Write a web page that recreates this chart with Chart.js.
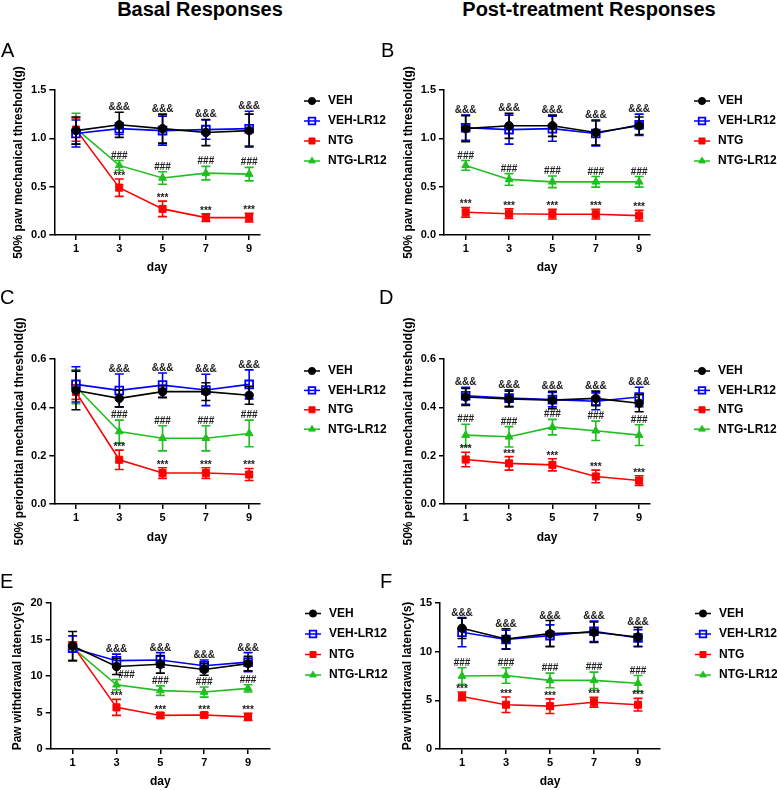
<!DOCTYPE html>
<html>
<head>
<meta charset="utf-8">
<script src="https://cdn.jsdelivr.net/npm/chart.js@4.4.1/dist/chart.umd.min.js"></script>
<style>
  body { margin: 0; background: #fff; width: 777px; height: 790px; position: relative; overflow: hidden;
         font-family: "Liberation Sans", Arial, sans-serif; }
  canvas { position: absolute; }
  .head { position: absolute; top: -2px; font-weight: bold; font-size: 20px; white-space: nowrap; transform: translateX(-50%); }
  .letter { position: absolute; font-size: 20px; z-index: 2; }
</style>
</head>
<body>
<div class="head" style="left:200px">Basal Responses</div>
<div class="head" style="left:589px">Post-treatment Responses</div>
<div class="letter" style="left:1px;top:39px">A</div>
<div class="letter" style="left:381px;top:39px">B</div>
<div class="letter" style="left:0px;top:286px">C</div>
<div class="letter" style="left:379px;top:286px">D</div>
<div class="letter" style="left:0px;top:570px">E</div>
<div class="letter" style="left:380px;top:570px">F</div>

<canvas id="chartA" width="390" height="235" style="left:0px;top:55px"></canvas>
<canvas id="chartB" width="387" height="235" style="left:390px;top:55px"></canvas>
<canvas id="chartC" width="390" height="255" style="left:0px;top:300px"></canvas>
<canvas id="chartD" width="387" height="255" style="left:390px;top:300px"></canvas>
<canvas id="chartE" width="390" height="200" style="left:0px;top:590px"></canvas>
<canvas id="chartF" width="387" height="200" style="left:390px;top:590px"></canvas>

<script>
// days on the x axis
const days = [1, 3, 5, 7, 9];
const groupNames = ['VEH', 'VEH-LR12', 'NTG', 'NTG-LR12'];

// A - basal paw threshold (g)
const aVEH = [1.08, 1.14, 1.10, 1.06, 1.08];
const aVEHsem = [0.14, 0.13, 0.15, 0.135, 0.17];
const aVEHLR = [1.05, 1.10, 1.08, 1.09, 1.10];
const aVEHLRsem = [0.14, 0.06, 0.15, 0.10, 0.18];
const aNTG = [1.09, 0.49, 0.27, 0.18, 0.18];
const aNTGsem = [0.12, 0.09, 0.08, 0.04, 0.045];
const aNTGLR = [1.10, 0.72, 0.59, 0.64, 0.63];
const aNTGLRsem = [0.16, 0.05, 0.065, 0.07, 0.07];

// B - post-treatment paw threshold (g)
const bVEH = [1.10, 1.13, 1.13, 1.06, 1.13];
const bVEHsem = [0.135, 0.13, 0.11, 0.13, 0.09];
const bVEHLR = [1.11, 1.09, 1.10, 1.05, 1.14];
const bVEHLRsem = [0.13, 0.15, 0.13, 0.13, 0.11];
const bNTG = [0.235, 0.22, 0.215, 0.215, 0.20];
const bNTGsem = [0.05, 0.05, 0.05, 0.05, 0.055];
const bNTGLR = [0.72, 0.575, 0.55, 0.55, 0.55];
const bNTGLRsem = [0.05, 0.06, 0.06, 0.055, 0.055];

// C - basal periorbital threshold (g)
const cVEH = [0.47, 0.437, 0.465, 0.465, 0.45];
const cVEHsem = [0.08, 0.035, 0.025, 0.037, 0.037];
const cVEHLR = [0.495, 0.47, 0.492, 0.472, 0.495];
const cVEHLRsem = [0.073, 0.068, 0.05, 0.065, 0.06];
const cNTG = [0.463, 0.183, 0.128, 0.128, 0.122];
const cNTGsem = [0.03, 0.04, 0.022, 0.022, 0.025];
const cNTGLR = [0.485, 0.30, 0.272, 0.272, 0.292];
const cNTGLRsem = [0.07, 0.047, 0.052, 0.052, 0.055];

// D - post-treatment periorbital threshold (g)
const dVEH = [0.443, 0.435, 0.430, 0.437, 0.417];
const dVEHsem = [0.035, 0.032, 0.036, 0.03, 0.035];
const dVEHLR = [0.448, 0.438, 0.432, 0.425, 0.443];
const dVEHLRsem = [0.035, 0.035, 0.03, 0.035, 0.04];
const dNTG = [0.184, 0.168, 0.162, 0.114, 0.097];
const dNTGsem = [0.03, 0.028, 0.025, 0.026, 0.02];
const dNTGLR = [0.285, 0.278, 0.318, 0.303, 0.285];
const dNTGLRsem = [0.045, 0.042, 0.032, 0.04, 0.043];

// E - basal withdrawal latency (s)
const eVEH = [14.1, 11.3, 11.6, 10.9, 11.7];
const eVEHsem = [2.0, 1.1, 1.2, 0.8, 1.0];
const eVEHLR = [13.8, 12.1, 12.2, 11.4, 11.9];
const eVEHLRsem = [1.7, 0.9, 1.0, 0.8, 1.3];
const eNTG = [14.2, 5.7, 4.6, 4.65, 4.4];
const eNTGsem = [0.5, 1.1, 0.35, 0.3, 0.5];
const eNTGLR = [13.9, 8.8, 8.0, 7.8, 8.3];
const eNTGLRsem = [0.6, 0.7, 0.65, 0.7, 0.5];

// F - post-treatment withdrawal latency (s)
const fVEH = [12.4, 11.3, 11.85, 12.0, 11.5];
const fVEHsem = [1.05, 1.05, 1.35, 1.05, 1.0];
const fVEHLR = [12.0, 11.25, 11.65, 12.1, 11.4];
const fVEHLRsem = [1.5, 0.95, 1.1, 1.05, 0.85];
const fNTG = [5.4, 4.55, 4.4, 4.8, 4.55];
const fNTGsem = [0.45, 0.8, 0.75, 0.5, 0.65];
const fNTGLR = [7.5, 7.55, 7.05, 7.05, 6.75];
const fNTGLRsem = [0.85, 0.8, 0.75, 0.85, 0.8];

// days that carry significance marks
const basalMarkDays = [3, 5, 7, 9];
const postMarkDays = [1, 3, 5, 7, 9];

const FONT = '"Liberation Sans", Arial, sans-serif';
Chart.defaults.font.family = FONT;

const styles = [
  { color: '#000000', pointStyle: 'circle', radius: 4.2, fill: '#000000', bw: 1 },
  { color: '#0000ff', pointStyle: 'rect', radius: 5.5, fill: 'rgba(0,0,0,0)', bw: 1.8 },
  { color: '#ff0000', pointStyle: 'rect', radius: 5, fill: '#ff0000', bw: 1 },
  { color: '#1fbf1f', pointStyle: 'triangle', radius: 4.5, fill: '#1fbf1f', bw: 1 }
];

// error bars (mean +/- sem) drawn under each dataset's markers
const errorBars = {
  id: 'errorBars',
  beforeDatasetDraw(chart, args) {
    const ds = chart.data.datasets[args.index];
    const y = chart.scales.y;
    const ctx = chart.ctx;
    ctx.save();
    ctx.strokeStyle = ds.borderColor;
    ctx.lineWidth = 1.6;
    args.meta.data.forEach((pt, i) => {
      const top = y.getPixelForValue(ds.data[i].y + ds.sem[i]);
      const bot = y.getPixelForValue(ds.data[i].y - ds.sem[i]);
      ctx.beginPath();
      ctx.moveTo(pt.x, top); ctx.lineTo(pt.x, bot);
      ctx.moveTo(pt.x - 4.5, top); ctx.lineTo(pt.x + 4.5, top);
      ctx.moveTo(pt.x - 4.5, bot); ctx.lineTo(pt.x + 4.5, bot);
      ctx.stroke();
    });
    ctx.restore();
  }
};

// &&& / ### / *** above the error bars
const sigMarks = {
  id: 'sigMarks',
  afterDatasetsDraw(chart, args, opts) {
    const { ctx, scales: { x, y } } = chart;
    ctx.save();
    ctx.font = 'bold 10px ' + FONT;
    ctx.fillStyle = '#222';
    ctx.textAlign = 'center';
    ctx.textBaseline = 'alphabetic';
    opts.marks.forEach(m => {
      m.days.forEach(d => {
        const i = days.indexOf(d);
        let top = Infinity;
        m.sets.forEach(s => {
          const ds = chart.data.datasets[s];
          top = Math.min(top, y.getPixelForValue(ds.data[i].y + ds.sem[i]));
        });
        const dx = (opts.shift && opts.shift[m.text] && opts.shift[m.text][d]) || 0;
        ctx.fillText(m.text, x.getPixelForValue(d) + dx, top + m.nudge);
      });
    });
    ctx.restore();
  }
};

function drawMarker(ctx, st, cx, cy, r) {
  ctx.fillStyle = st.fill;
  ctx.strokeStyle = st.color;
  ctx.lineWidth = st.bw;
  ctx.beginPath();
  if (st.pointStyle === 'circle') {
    ctx.arc(cx, cy, r, 0, Math.PI * 2);
  } else if (st.pointStyle === 'rect') {
    const s = r * Math.SQRT1_2;
    ctx.rect(cx - s, cy - s, 2 * s, 2 * s);
  } else {
    ctx.moveTo(cx, cy - r);
    ctx.lineTo(cx + r * Math.sin(2 * Math.PI / 3), cy - r * Math.cos(2 * Math.PI / 3));
    ctx.lineTo(cx + r * Math.sin(4 * Math.PI / 3), cy - r * Math.cos(4 * Math.PI / 3));
    ctx.closePath();
  }
  ctx.fill();
  ctx.stroke();
}

// legend to the right: line + marker + label
const sideLegend = {
  id: 'sideLegend',
  afterDraw(chart, args, opts) {
    const ctx = chart.ctx;
    ctx.save();
    chart.data.datasets.forEach((ds, i) => {
      const st = styles[i];
      const yy = opts.y + i * opts.step;
      ctx.strokeStyle = st.color;
      ctx.lineWidth = 1.5;
      ctx.beginPath(); ctx.moveTo(opts.x, yy); ctx.lineTo(opts.x + 16, yy); ctx.stroke();
      drawMarker(ctx, st, opts.x + 8, yy, st.radius * 0.85);
      ctx.fillStyle = '#000';
      ctx.font = 'bold 12px ' + FONT;
      ctx.textAlign = 'left';
      ctx.textBaseline = 'middle';
      ctx.fillText(ds.label, opts.x + 24, yy);
    });
    ctx.restore();
  }
};

const panels = [
  { id: 'chartA', box: [0, 55, 390, 235], area: [54.3, 260, 90, 235], yTitleX: 19, xTitleY: 268, xMax: 9.5,
    yTitle: '50% paw mechanical threshold(g)', yMax: 1.5, yStep: 0.5, yDec: 1, markDays: basalMarkDays,
    series: [[aVEH, aVEHsem], [aVEHLR, aVEHLRsem], [aNTG, aNTGsem], [aNTGLR, aNTGLRsem]],
    legend: { x: 304, y: 101, step: 20 } },
  { id: 'chartB', box: [390, 55, 387, 235], area: [444, 650, 90, 235], yTitleX: 409, xTitleY: 268, xMax: 9.5,
    yTitle: '50% paw mechanical threshold(g)', yMax: 1.5, yStep: 0.5, yDec: 1, markDays: postMarkDays,
    series: [[bVEH, bVEHsem], [bVEHLR, bVEHLRsem], [bNTG, bNTGsem], [bNTGLR, bNTGLRsem]],
    legend: { x: 694, y: 101, step: 20 } },
  { id: 'chartC', box: [0, 300, 390, 255], area: [54.3, 260, 359, 504], yTitleX: 19.5, xTitleY: 538, xMax: 9.5,
    yTitle: '50% periorbital mechanical threshold(g)', yMax: 0.6, yStep: 0.2, yDec: 1, markDays: basalMarkDays,
    series: [[cVEH, cVEHsem], [cVEHLR, cVEHLRsem], [cNTG, cNTGsem], [cNTGLR, cNTGLRsem]],
    legend: { x: 304, y: 371, step: 19.4 } },
  { id: 'chartD', box: [390, 300, 387, 255], area: [444, 650, 359, 504], yTitleX: 409, xTitleY: 538, xMax: 9.5,
    yTitle: '50% periorbital mechanical threshold(g)', yMax: 0.6, yStep: 0.2, yDec: 1, markDays: postMarkDays,
    series: [[dVEH, dVEHsem], [dVEHLR, dVEHLRsem], [dNTG, dNTGsem], [dNTGLR, dNTGLRsem]],
    legend: { x: 694, y: 371, step: 19.4 } },
  { id: 'chartE', box: [0, 590, 390, 200], area: [50.7, 270, 603, 749], yTitleX: 18, xTitleY: 781.5, xMax: 10,
    yTitle: 'Paw withdrawal latency(s)', yMax: 20, yStep: 5, yDec: 0, markDays: basalMarkDays,
    series: [[eVEH, eVEHsem], [eVEHLR, eVEHLRsem], [eNTG, eNTGsem], [eNTGLR, eNTGLRsem]],
    legend: { x: 305, y: 613.5, step: 20.5 }, shift: { '###': { 3: 10 } } },
  { id: 'chartF', box: [390, 590, 387, 200], area: [440, 660, 603, 749], yTitleX: 408, xTitleY: 781.5, xMax: 10,
    yTitle: 'Paw withdrawal latency(s)', yMax: 15, yStep: 5, yDec: 0, markDays: postMarkDays,
    series: [[fVEH, fVEHsem], [fVEHLR, fVEHLRsem], [fNTG, fNTGsem], [fNTGLR, fNTGLRsem]],
    legend: { x: 695, y: 613.5, step: 20.5 } }
];

panels.forEach(p => {
  const [bx, by, bw, bh] = p.box;
  const [l, r, t, b] = p.area;
  const yScaleLeft = p.yTitleX - 7.2;     // half of 12px*1.2 line height
  const xScaleBottom = p.xTitleY + 7.2;   // half of 12px*1.2 line height
  const wy = l - yScaleLeft;
  const hx = xScaleBottom - b;
  const legend = { x: p.legend.x - bx, y: p.legend.y - by, step: p.legend.step };

  const datasets = p.series.map(([vals, sem], i) => ({
    label: groupNames[i],
    data: days.map((d, k) => ({ x: d, y: vals[k] })),
    sem: sem,
    borderColor: styles[i].color,
    borderWidth: 1.6,
    tension: 0,
    pointStyle: styles[i].pointStyle,
    pointRadius: styles[i].radius,
    pointBackgroundColor: styles[i].fill,
    pointBorderColor: styles[i].color,
    pointBorderWidth: styles[i].bw,
    fill: false
  }));

  const tickFont = { weight: 'bold', size: 11, family: FONT };
  const titleFont = { weight: 'bold', size: 12, family: FONT };

  new Chart(document.getElementById(p.id), {
    type: 'line',
    data: { datasets },
    plugins: [errorBars, sigMarks, sideLegend],
    options: {
      responsive: false,
      animation: false,
      devicePixelRatio: 1,
      events: [],
      layout: {
        padding: { left: yScaleLeft - bx, right: bx + bw - r, top: t - by, bottom: by + bh - xScaleBottom }
      },
      plugins: {
        legend: { display: false },
        tooltip: { enabled: false },
        sideLegend: legend,
        sigMarks: {
          shift: p.shift,
          marks: [
            { text: '&&&', sets: [0, 1], days: p.markDays, nudge: -2 },
            { text: '###', sets: [3], days: p.markDays, nudge: -2 },
            { text: '***', sets: [2], days: p.markDays, nudge: 0 }
          ]
        }
      },
      scales: {
        x: {
          type: 'linear', min: 0, max: p.xMax,
          afterBuildTicks: s => { s.ticks = days.map(v => ({ value: v })); },
          afterFit: s => { s.height = hx; },
          grid: { drawOnChartArea: false, drawTicks: true, tickLength: 5, color: '#000', lineWidth: 1.5 },
          border: { color: '#000', width: 1.5 },
          ticks: { color: '#000', font: tickFont, padding: 2, maxRotation: 0, autoSkip: false, callback: v => String(v) },
          title: { display: true, text: 'day', color: '#000', font: titleFont, padding: 0 }
        },
        y: {
          min: 0, max: p.yMax,
          afterFit: s => { s.width = wy; },
          grid: { drawOnChartArea: false, drawTicks: true, tickLength: 5, color: '#000', lineWidth: 1.5 },
          border: { color: '#000', width: 1.5 },
          ticks: { color: '#000', font: tickFont, padding: 3, stepSize: p.yStep, callback: v => Number(v).toFixed(p.yDec) },
          title: { display: true, text: p.yTitle, color: '#000', font: titleFont, padding: 0 }
        }
      }
    }
  });
});
</script>
</body>
</html>
